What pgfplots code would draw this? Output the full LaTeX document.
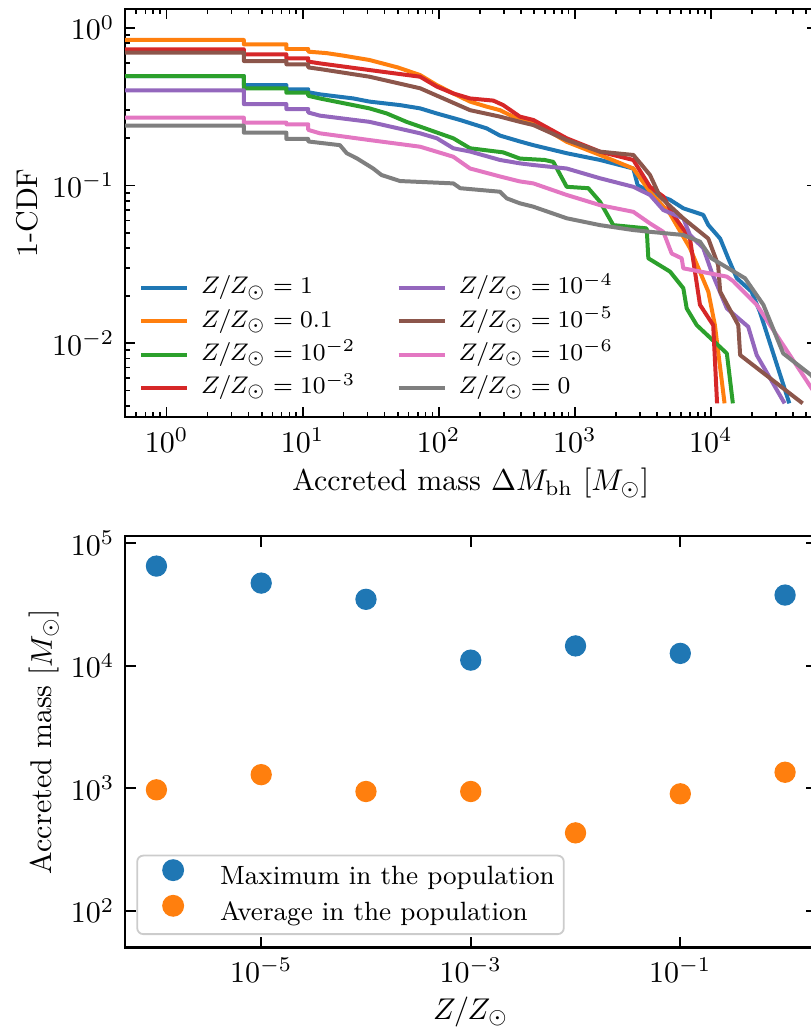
\documentclass[border=0pt]{standalone}
\usepackage{pgfplots}
\pgfplotsset{compat=1.18}
\definecolor{c0}{HTML}{1F77B4}
\definecolor{c1}{HTML}{FF7F0E}
\definecolor{c2}{HTML}{2CA02C}
\definecolor{c3}{HTML}{D62728}
\definecolor{c4}{HTML}{9467BD}
\definecolor{c5}{HTML}{8C564B}
\definecolor{c6}{HTML}{E377C2}
\definecolor{c7}{HTML}{7F7F7F}
\begin{document}
\begin{tikzpicture}
\begin{axis}[
  at={(41.667pt,-3pt)}, anchor=north west,
  scale only axis, width=230.5pt, height=136pt,
  xmode=log, ymode=log,
  xmin=0.4955, xmax=59700, ymin=0.0034, ymax=1.314,
  axis line style={line width=0.8pt},
  tick style={black, line width=0.6pt},
  major tick length=3.3pt, minor tick length=1.8pt,
  xlabel={Accreted mass $\Delta M_{\mathrm{bh}}$ [$M_\odot$]},
  ylabel={1-CDF},
  xlabel style={at={(axis description cs:0.5,-0.162)}, anchor=center},
  ylabel style={at={(axis description cs:-0.142,0.5)}, anchor=center},
  every axis plot/.append style={line width=1.33pt, line join=round},
  legend columns=4, transpose legend,
  legend cell align=left,
  legend image code/.code={\draw[#1] (0pt,0pt) -- (15.33pt,0pt);},
  legend style={draw=none, fill=none, at={(axis description cs:0.0203,0.357)}, anchor=north west,
    inner sep=0pt, outer sep=0pt, row sep=0pt,
    font=\fontsize{8.4}{10}\selectfont,
    nodes={inner sep=1pt, text height=6.5pt, text depth=2.6pt},
    /tikz/every odd column/.append style={column sep=3pt},
    /tikz/every even column/.append style={column sep=12.8pt}},
]
\addplot[c0] coordinates {(0.4,0.494) (3.7,0.494) (3.7,0.433) (7.6,0.433) (7.6,0.407) (11,0.407) (11,0.39) (13.4,0.378) (23.6,0.356) (31,0.34) (52,0.323) (73,0.308) (96.7,0.286) (143.5,0.26) (225,0.23) (282,0.207) (395,0.19) (496,0.18) (872,0.16) (1532,0.145) (2692,0.128) (2900,0.10) (3570,0.0912) (5010,0.081) (6270,0.0716) (8790,0.065) (9570,0.0561) (11700,0.046) (13400,0.0345) (15500,0.0258) (19900,0.0212) (22900,0.0158) (37700,0.00415)};
\addlegendentry{$Z/Z_\odot=1$}
\addplot[c1] coordinates {(0.4,0.836) (3.7,0.836) (3.7,0.785) (7.6,0.785) (7.6,0.733) (11,0.733) (11,0.705) (15,0.69) (20,0.665) (31,0.624) (50,0.56) (73,0.501) (96.7,0.433) (128,0.383) (170,0.34) (225,0.316) (282,0.30) (395,0.26) (496,0.253) (872,0.189) (1532,0.156) (2692,0.128) (3570,0.0912) (5010,0.066) (7020,0.04) (9570,0.0212) (10700,0.013) (12600,0.00415)};
\addlegendentry{$Z/Z_\odot=0.1$}
\addplot[c2] coordinates {(0.4,0.494) (3.7,0.494) (3.7,0.413) (7.6,0.413) (7.6,0.387) (11,0.387) (11,0.37) (13.4,0.356) (31,0.308) (41.5,0.286) (58,0.253) (73,0.236) (128,0.199) (170,0.172) (298,0.162) (395,0.148) (600,0.145) (695,0.141) (872,0.098) (1257,0.096) (1532,0.0788) (1918,0.056) (3375,0.0534) (3470,0.0345) (5010,0.0284) (6270,0.0223) (6640,0.0166) (7870,0.013) (13100,0.0086) (14500,0.00415)};
\addlegendentry{$Z/Z_\odot=10^{-2}$}
\addplot[c3] coordinates {(0.4,0.73) (3.7,0.73) (3.7,0.678) (7.6,0.678) (7.6,0.64) (11,0.64) (11,0.61) (13.4,0.594) (31,0.539) (73,0.489) (97,0.423) (128,0.383) (170,0.356) (252,0.345) (298,0.323) (395,0.273) (496,0.26) (872,0.199) (1532,0.1637) (2692,0.145) (3570,0.098) (4470,0.085) (5290,0.065) (7020,0.046) (8310,0.0175) (10400,0.013) (11100,0.00415)};
\addlegendentry{$Z/Z_\odot=10^{-3}$}
\addplot[c4] coordinates {(0.4,0.401) (3.7,0.401) (3.7,0.328) (7.6,0.328) (7.6,0.305) (11,0.305) (11,0.29) (13.4,0.277) (31,0.253) (73,0.214) (97,0.199) (128,0.172) (170,0.164) (282,0.145) (395,0.138) (496,0.1347) (872,0.128) (1532,0.111) (2692,0.098) (3570,0.087) (4470,0.0698) (6270,0.0618) (7020,0.0485) (8790,0.04) (10100,0.0284) (13100,0.0166) (18800,0.0127) (21700,0.0084) (34800,0.00415)};
\addlegendentry{$Z/Z_\odot=10^{-4}$}
\addplot[c5] coordinates {(0.4,0.695) (3.7,0.695) (3.7,0.615) (7.6,0.615) (7.6,0.586) (11,0.586) (11,0.56) (13.4,0.547) (31,0.489) (73,0.413) (170,0.30) (282,0.273) (395,0.253) (496,0.2415) (872,0.194) (1532,0.1637) (2692,0.156) (3100,0.135) (3570,0.1164) (4230,0.0848) (6270,0.0618) (9570,0.046) (11300,0.0313) (11700,0.0212) (15900,0.013) (16400,0.0084) (47200,0.00415)};
\addlegendentry{$Z/Z_\odot=10^{-5}$}
\addplot[c6] coordinates {(0.4,0.269) (3.7,0.269) (3.7,0.25) (7.6,0.25) (7.6,0.244) (11,0.244) (11,0.225) (13.4,0.214) (31,0.194) (73,0.176) (128,0.152) (170,0.128) (282,0.114) (395,0.106) (496,0.103) (872,0.087) (1532,0.075) (2692,0.068) (3570,0.0574) (4470,0.0508) (5150,0.037) (6100,0.0345) (6270,0.0298) (13100,0.0264) (14600,0.0247) (21700,0.0175) (65000,0.00415)};
\addlegendentry{$Z/Z_\odot=10^{-6}$}
\addplot[c7] coordinates {(0.4,0.239) (3.7,0.239) (3.7,0.216) (7.6,0.216) (7.6,0.197) (11,0.197) (11,0.19) (18.8,0.18) (21.1,0.16) (25,0.1486) (33,0.128) (38,0.1164) (52,0.1066) (128,0.103) (144,0.096) (282,0.0912) (316,0.0828) (395,0.077) (496,0.0733) (872,0.0619) (1532,0.056) (2692,0.0521) (3570,0.0508) (6270,0.0485) (8310,0.044) (10100,0.0345) (17800,0.0258) (24300,0.0175) (34000,0.0086) (54300,0.00628) (75000,0.0045)};
\addlegendentry{$Z/Z_\odot=0$}
\end{axis}
\begin{axis}[
  at={(41.667pt,-178.57pt)}, anchor=north west,
  scale only axis, width=230.5pt, height=137.3pt,
  xmode=log, ymode=log,
  xmin=5.012e-7, xmax=1.995, ymin=50, ymax=1.15e5,
  xtick={1e-5,1e-3,1e-1}, xminorticks=false, yminorticks=false,
  axis line style={line width=0.8pt},
  tick style={black, line width=0.6pt},
  major tick length=3.6pt,
  xlabel={$Z/Z_\odot$},
  ylabel={Accreted mass [$M_\odot$]},
  xlabel style={at={(axis description cs:0.5,-0.156)}, anchor=center},
  ylabel style={at={(axis description cs:-0.1167,0.5)}, anchor=center},
  legend cell align=left,
  legend image code/.code={\path (0pt,0pt) (24pt,0pt); \fill[#1, fill opacity=1, draw opacity=1] (9.67pt,2.4pt) circle (3.35pt);},
  legend style={at={(axis description cs:0.0164,0.0306)}, anchor=south west,
    draw=black!20, line width=0.6pt, rounded corners=2pt, fill=white, fill opacity=0.8, text opacity=1,
    inner xsep=2pt, inner ysep=1.2pt, row sep=0pt,
    font=\fontsize{8.8}{10.5}\selectfont,
    nodes={inner sep=1pt, text height=7.2pt, text depth=2.47pt}},
]
\addplot[only marks, mark=*, mark size=3.35pt, color=c0] coordinates {(1e-6,65000) (1e-5,47200) (1e-4,34800) (1e-3,11100) (1e-2,14500) (1e-1,12600) (1,37700)};
\addlegendentry{Maximum in the population}
\addplot[only marks, mark=*, mark size=3.35pt, color=c1] coordinates {(1e-6,970) (1e-5,1290) (1e-4,940) (1e-3,940) (1e-2,432) (1e-1,900) (1,1350)};
\addlegendentry{Average in the population}
\end{axis}
\pgfresetboundingbox
\path (0pt,0pt) rectangle (270.333pt,-343.333pt);
\end{tikzpicture}
\end{document}
